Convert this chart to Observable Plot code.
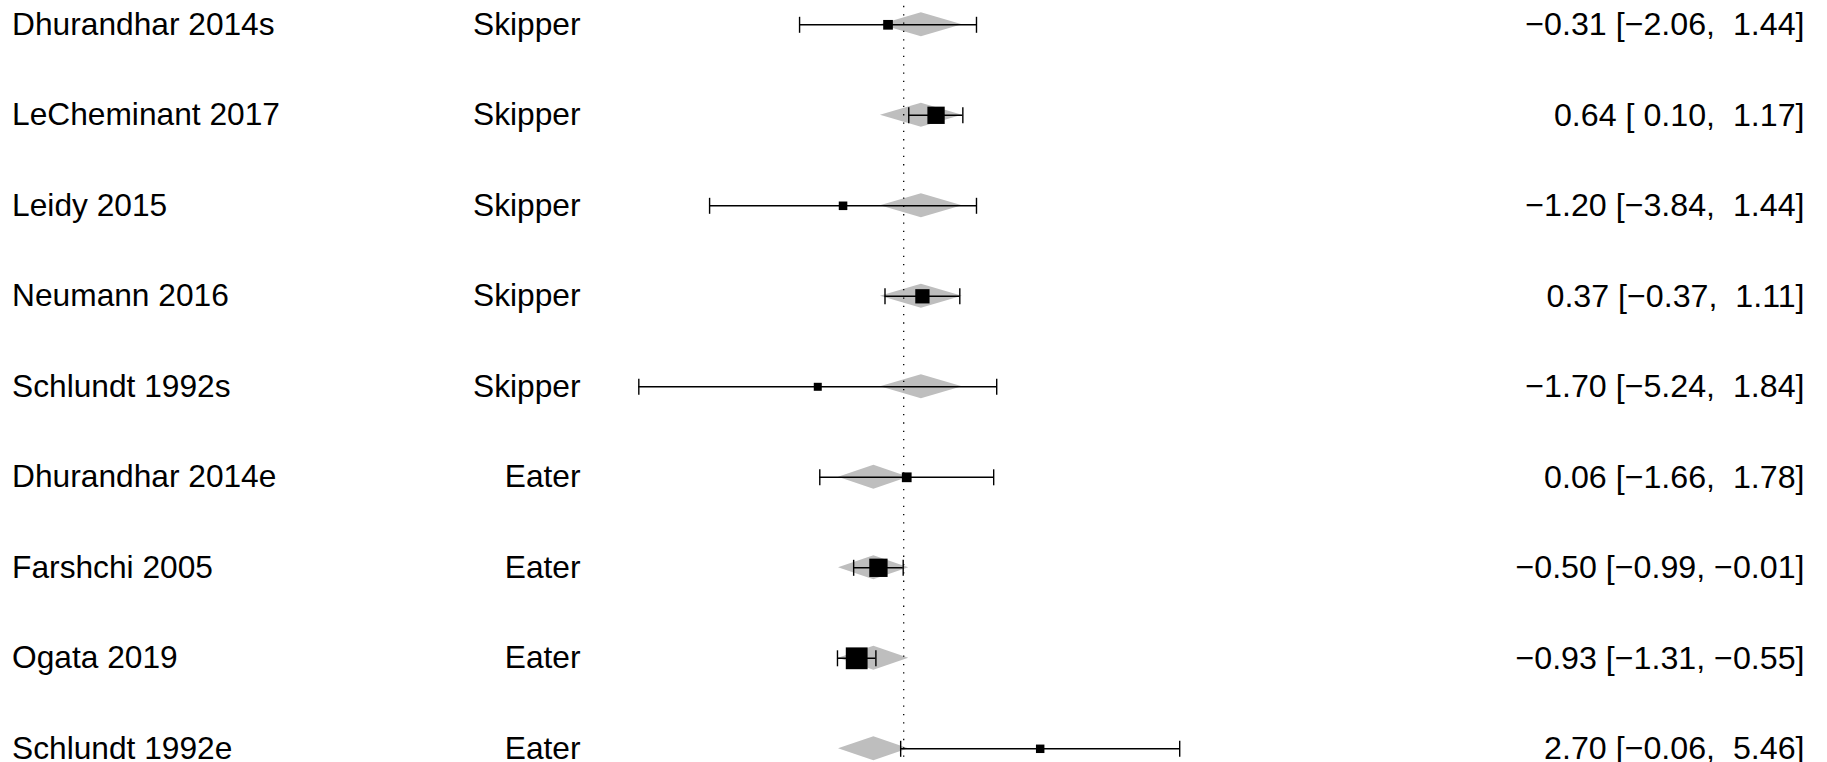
<!DOCTYPE html>
<html>
<head>
<meta charset="utf-8">
<script src="https://cdn.jsdelivr.net/npm/d3@7"></script>
<script src="https://cdn.jsdelivr.net/npm/@observablehq/plot@0.6"></script>
<style>
  html, body { margin: 0; padding: 0; background: #fff; overflow: hidden; }
  #chart svg { display: block; white-space: pre; max-width: none !important; }
</style>
</head>
<body>
<div id="chart"></div>
<script>
// ---- Data ----
const studies = ["Dhurandhar 2014s", "LeCheminant 2017", "Leidy 2015", "Neumann 2016", "Schlundt 1992s",
                 "Dhurandhar 2014e", "Farshchi 2005", "Ogata 2019", "Schlundt 1992e"];
const groups = ["Skipper", "Skipper", "Skipper", "Skipper", "Skipper", "Eater", "Eater", "Eater", "Eater"];
const estimates = [-0.31, 0.64, -1.20, 0.37, -1.70, 0.06, -0.50, -0.93, 2.70];
const lowers = [-2.06, 0.10, -3.84, -0.37, -5.24, -1.66, -0.99, -1.31, -0.06];
const uppers = [1.44, 1.17, 1.44, 1.11, 1.84, 1.78, -0.01, -0.55, 5.46];

// subgroup pooled estimates (grey diamonds)
const groupNames = ["Skipper", "Eater"];
const pooledEst = [0.35, -0.59];
const pooledLower = [-0.46, -1.29];
const pooledUpper = [1.16, 0.10];

// ---- Layout constants ----
const W = 1827, H = 762;
const ROW0 = 24.3, ROW_PX = 90.5;      // pixel position of first row and row spacing
const ZERO_PX = 903.2, UNIT_PX = 50.55; // x position of 0 and px per unit
const DIAMOND_HALF_PX = 12;
const FONT = "'Liberation Sans', Arial, Helvetica, sans-serif";

const fmt = v => (v < 0 ? "\u2212" : "") + Math.abs(v).toFixed(2);
const pad = v => (v < 0 ? "\u2212" : " ") + Math.abs(v).toFixed(2);

const rows = studies.map((s, i) => ({
  row: i,
  study: s,
  group: groups[i],
  est: estimates[i],
  lower: lowers[i],
  upper: uppers[i],
  precision: 3.92 / (uppers[i] - lowers[i]),
  label: `${fmt(estimates[i])} [${pad(lowers[i])}, ${pad(uppers[i])}]`
}));

const dh = DIAMOND_HALF_PX / ROW_PX;
const diamonds = rows.flatMap(d => {
  const g = groupNames.indexOf(d.group);
  return [
    {row: d.row, x: pooledLower[g], y1: d.row, y2: d.row},
    {row: d.row, x: pooledEst[g], y1: d.row - dh, y2: d.row + dh},
    {row: d.row, x: pooledUpper[g], y1: d.row, y2: d.row}
  ];
});

const vline = {
  draw(context, size) {
    const h = Math.sqrt(size / Math.PI);
    context.moveTo(0, -h);
    context.lineTo(0, h);
  }
};

const chart = Plot.plot({
  width: W,
  height: H,
  margin: 0,
  style: {fontFamily: FONT, fontSize: "31.7px", color: "black", background: "white"},
  x: {type: "linear", domain: [-ZERO_PX / UNIT_PX, (W - ZERO_PX) / UNIT_PX], range: [0, W], axis: null},
  y: {type: "linear", domain: [-ROW0 / ROW_PX, (H - ROW0) / ROW_PX], range: [0, H], axis: null},
  r: {type: "linear", domain: d3.extent(rows, d => d.precision), range: [8 / Math.sqrt(Math.PI), 21.8 / Math.sqrt(Math.PI)]},
  marks: [
    Plot.area(diamonds, {x1: "x", y1: "y1", y2: "y2", z: "row", fill: "#bebebe", curve: "linear"}),
    Plot.ruleX([0], {stroke: "black", strokeWidth: 1.3, strokeDasharray: "1.3,7.03", strokeDashoffset: 2.5}),
    Plot.ruleY(rows, {y: "row", x1: "lower", x2: "upper", stroke: "black", strokeWidth: 1.4}),
    Plot.dot(rows, {x: "lower", y: "row", symbol: vline, r: 8, stroke: "black", strokeWidth: 1.4}),
    Plot.dot(rows, {x: "upper", y: "row", symbol: vline, r: 8, stroke: "black", strokeWidth: 1.4}),
    Plot.dot(rows, {x: "est", y: "row", symbol: "square", r: "precision", fill: "black", stroke: "none"}),
    Plot.text(rows, {y: "row", text: "study", frameAnchor: "left", dx: 11.6, textAnchor: "start", fill: "black"}),
    Plot.text(rows, {y: "row", text: "group", frameAnchor: "left", dx: 580, textAnchor: "end", fill: "black"}),
    Plot.text(rows, {y: "row", text: "label", frameAnchor: "right", dx: -23, textAnchor: "end", fill: "black", fontSize: 32.2})
  ]
});

document.getElementById("chart").appendChild(chart);
</script>
</body>
</html>
